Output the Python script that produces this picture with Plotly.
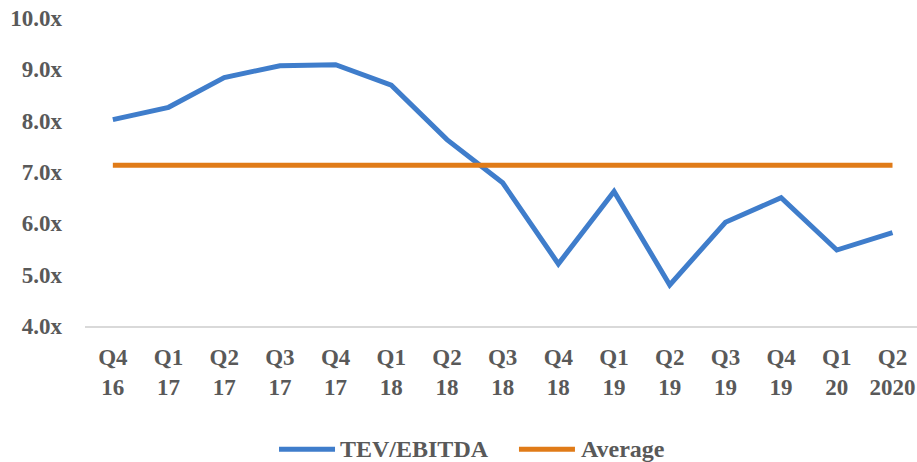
import plotly.graph_objects as go

quarters = ["Q4<br>16", "Q1<br>17", "Q2<br>17", "Q3<br>17", "Q4<br>17", "Q1<br>18", "Q2<br>18",
            "Q3<br>18", "Q4<br>18", "Q1<br>19", "Q2<br>19", "Q3<br>19", "Q4<br>19", "Q1<br>20", "Q2<br>2020"]
tev_ebitda = [8.02, 8.26, 8.84, 9.07, 9.09, 8.69, 7.63, 6.79, 5.21, 6.62, 4.80, 6.02, 6.50, 5.48, 5.82]
average = [7.13] * 15
y_ticks = [4, 5, 6, 7, 8, 9, 10]
y_tick_labels = ["4.0x", "5.0x", "6.0x", "7.0x", "8.0x", "9.0x", "10.0x"]

FONT = "Book Antiqua, Palatino Linotype, Liberation Serif, serif"
GRAY = "#595959"
BLUE = "#3F7DCB"
ORANGE = "#E07B18"
FS = 23

series = [("TEV/EBITDA", tev_ebitda, BLUE), ("Average", average, ORANGE)]

fig = go.Figure()
for name, vals, col in series:
    fig.add_trace(go.Scatter(x=quarters, y=vals, mode="lines", name=name,
                             line=dict(color=col, width=5), showlegend=False))

# custom legend (long line samples like the reference)
legend_pos = [(0.2332, 0.3005, 0.3041), (0.5216, 0.5889, 0.5938)]
ly = -0.4003
for (name, vals, col), (x0, x1, xt) in zip(series, legend_pos):
    fig.add_shape(type="line", xref="paper", yref="paper", x0=x0, x1=x1, y0=ly, y1=ly,
                  line=dict(color=col, width=5))
    fig.add_annotation(xref="paper", yref="paper", x=xt, y=ly, xanchor="left", yanchor="middle",
                       text="<b>%s</b>" % name, showarrow=False,
                       font=dict(family=FONT, size=24, color=GRAY))

fig.update_layout(
    width=917, height=462,
    margin=dict(l=85, r=0, t=18, b=135.5),
    paper_bgcolor="white", plot_bgcolor="white",
    font=dict(family=FONT, size=FS, color=GRAY),
    xaxis=dict(type="category", range=[-0.5, 14.44], showgrid=False, zeroline=False,
               showline=True, linecolor="#D9D9D9", linewidth=1.5, ticks="",
               tickvals=quarters, ticktext=["<b>%s</b>" % q for q in quarters],
               tickfont=dict(family=FONT, size=FS, color=GRAY), ticklabelstandoff=10,
               ticklabeloverflow="allow"),
    yaxis=dict(range=[4, 10], tickvals=y_ticks, ticktext=["<b>%s</b>" % t for t in y_tick_labels],
               showgrid=False, zeroline=False, showline=False, ticks="",
               tickfont=dict(family=FONT, size=FS, color=GRAY), ticklabelstandoff=22,
               ticklabeloverflow="allow"),
)

fig.write_html("out.html", config={"displayModeBar": False},
               post_script="document.body.style.margin='0';document.body.style.overflow='hidden';")
